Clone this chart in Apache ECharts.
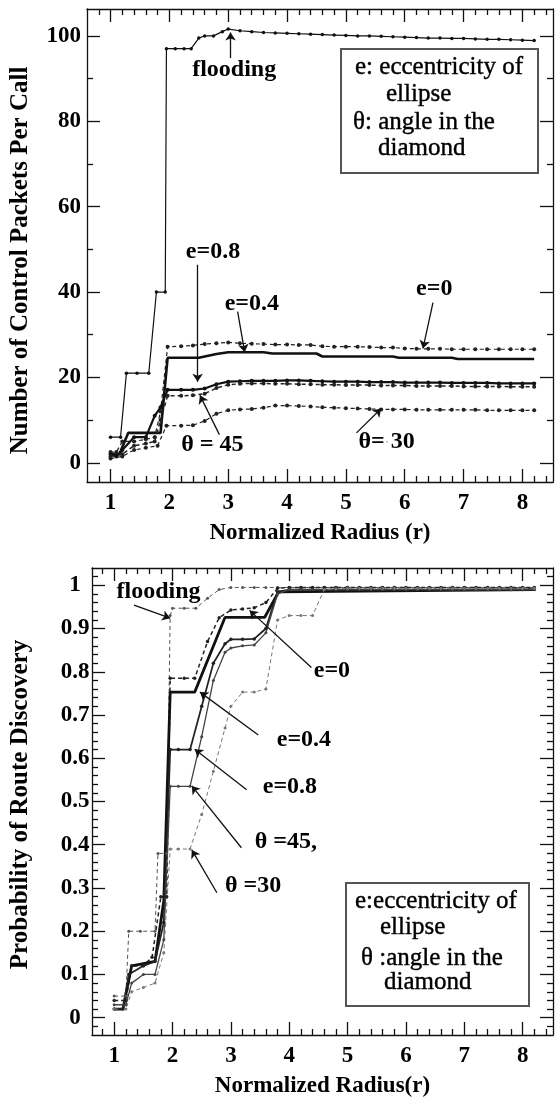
<!DOCTYPE html>
<html>
<head>
<meta charset="UTF-8">
<title>Control packets and route discovery</title>
<script src="https://cdn.jsdelivr.net/npm/echarts@6/dist/echarts.min.js"></script>
<style>
  html, body { margin: 0; padding: 0; background: #fff; }
  #chart { width: 557px; height: 1099px; }
</style>
</head>
<body>
<div id="chart"></div>
<script type="text/javascript">
// common radius grid for the flat tails (r = 3.0 .. 8.2)
var rTail = [3.0, 3.2, 3.4, 3.6, 3.8, 4.0, 4.2, 4.4, 4.6, 4.8, 5.0, 5.2, 5.4, 5.6, 5.8, 6.0, 6.2, 6.4, 6.6, 6.8, 7.0, 7.2, 7.4, 7.6, 7.8, 8.0, 8.2];

// ---- top chart: control packets per call ----
var floodTopHead = [[1.0, 6], [1.17, 6], [1.27, 21], [1.45, 21], [1.65, 21], [1.78, 40], [1.93, 40], [1.95, 97], [2.1, 97], [2.25, 97], [2.37, 97], [2.5, 99.5], [2.6, 100], [2.75, 100], [2.9, 101]];
var floodTopTail = [101.6, 101.2, 101.0, 100.8, 100.7, 100.6, 100.5, 100.4, 100.3, 100.2, 100.1, 100.0, 100.0, 99.9, 99.8, 99.7, 99.6, 99.5, 99.5, 99.4, 99.4, 99.3, 99.2, 99.2, 99.1, 99.0, 98.9];
var e0TopHead = [[1.0, 2.5], [1.1, 2.5], [1.2, 5], [1.4, 5], [1.6, 5.5], [1.75, 6], [1.85, 12], [1.97, 27.2], [2.2, 27.3], [2.4, 27.5], [2.6, 27.8], [2.8, 28]];
var e0TopTail = [28.2, 28.0, 27.9, 27.8, 27.7, 27.7, 27.6, 27.6, 27.3, 27.2, 27.2, 27.2, 27.1, 27.0, 27.0, 26.8, 26.7, 26.7, 26.7, 26.6, 26.6, 26.6, 26.6, 26.6, 26.6, 26.6, 26.6];
var e4Top = [[1.0, 2], [1.15, 2], [1.3, 7], [1.85, 7], [1.97, 24.6], [2.5, 24.6], [2.8, 25.5], [3.0, 25.9], [3.6, 25.9], [3.75, 25.6], [4.5, 25.6], [4.6, 24.9], [5.8, 24.9], [5.9, 24.6], [6.8, 24.6], [6.9, 24.3], [8.2, 24.3]];
var e8TopHead = [[1.0, 2], [1.1, 1.5], [1.2, 3], [1.4, 6], [1.6, 6], [1.75, 11], [1.85, 13], [1.97, 17.1], [2.2, 17.1], [2.4, 17.1], [2.6, 17.4], [2.8, 18.4]];
var e8TopTail = [19.0, 19.1, 19.2, 19.2, 19.2, 19.3, 19.3, 19.2, 19.1, 19.0, 19.0, 19.0, 18.9, 18.9, 18.9, 18.8, 18.8, 18.8, 18.8, 18.7, 18.7, 18.7, 18.7, 18.6, 18.6, 18.6, 18.6];
var t45TopHead = [[1.0, 1.5], [1.2, 2], [1.4, 4], [1.6, 4.5], [1.75, 5], [1.85, 10], [1.97, 15.7], [2.2, 15.7], [2.4, 15.8], [2.6, 16.2], [2.8, 17.5]];
var t45TopTail = [18.3, 18.5, 18.6, 18.6, 18.5, 18.5, 18.4, 18.4, 18.3, 18.3, 18.2, 18.2, 18.2, 18.1, 18.1, 18.1, 18.0, 18.0, 18.0, 18.0, 17.9, 17.9, 17.9, 17.9, 17.8, 17.8, 17.8];
var t30TopHead = [[1.0, 1], [1.2, 1.5], [1.4, 3], [1.6, 3.5], [1.8, 4], [1.95, 8.7], [2.2, 8.7], [2.4, 8.8], [2.6, 9.8], [2.8, 11.5]];
var t30TopTail = [12.3, 12.5, 12.6, 12.9, 13.4, 13.4, 13.3, 13.2, 13.0, 12.9, 12.8, 12.7, 12.6, 12.5, 12.5, 12.5, 12.4, 12.4, 12.4, 12.4, 12.4, 12.4, 12.3, 12.3, 12.3, 12.3, 12.3];

// ---- bottom chart: probability of route discovery ----
var floodBotHead = [[1.0, 0.05], [1.2, 0.05], [1.25, 0.2], [1.45, 0.2], [1.7, 0.2], [1.75, 0.38], [1.9, 0.38], [1.96, 0.93], [2.0, 0.947], [2.2, 0.947], [2.4, 0.947], [2.6, 0.97], [2.8, 0.99]];
var floodBotTail = [0.995, 0.995, 0.995, 0.995, 0.995, 0.995, 0.995, 0.995, 0.995, 0.995, 0.995, 0.995, 0.995, 0.995, 0.995, 0.995, 0.995, 0.995, 0.995, 0.995, 0.995, 0.995, 0.995, 0.995, 0.995, 0.995, 0.995];
var e0BotHead = [[1.0, 0.04], [1.2, 0.04], [1.3, 0.12], [1.5, 0.12], [1.65, 0.14], [1.8, 0.28], [1.9, 0.28], [1.96, 0.785], [2.2, 0.785], [2.38, 0.785], [2.6, 0.87], [2.8, 0.925]];
var e0BotTail = [0.943, 0.945, 0.948, 0.96, 0.993, 0.995, 0.995, 0.995, 0.995, 0.995, 0.995, 0.995, 0.995, 0.995, 0.995, 0.995, 0.995, 0.995, 0.995, 0.995, 0.995, 0.995, 0.995, 0.995, 0.995, 0.995, 0.995];
var e4Bot = [[1.0, 0.02], [1.15, 0.02], [1.3, 0.12], [1.7, 0.13], [1.85, 0.27], [1.96, 0.753], [2.38, 0.753], [2.9, 0.926], [3.58, 0.926], [3.82, 0.985], [8.2, 0.99]];
var e8BotHead = [[1.0, 0.02], [1.15, 0.02], [1.25, 0.1], [1.5, 0.12], [1.7, 0.13], [1.85, 0.22], [1.96, 0.62], [2.1, 0.62], [2.3, 0.62], [2.5, 0.72], [2.7, 0.82], [2.9, 0.865]];
var e8BotTail = [0.875, 0.875, 0.876, 0.9, 0.985, 0.99, 0.99, 0.99, 0.99, 0.99, 0.99, 0.99, 0.99, 0.99, 0.99, 0.99, 0.99, 0.99, 0.99, 0.99, 0.99, 0.99, 0.99, 0.99, 0.99, 0.99, 0.99];
var t45BotHead = [[1.0, 0.03], [1.2, 0.03], [1.3, 0.08], [1.5, 0.1], [1.7, 0.1], [1.85, 0.18], [1.96, 0.535], [2.1, 0.535], [2.3, 0.535], [2.5, 0.65], [2.7, 0.78], [2.9, 0.845]];
var t45BotTail = [0.855, 0.86, 0.862, 0.89, 0.98, 0.99, 0.99, 0.99, 0.99, 0.99, 0.99, 0.99, 0.99, 0.99, 0.99, 0.99, 0.99, 0.99, 0.99, 0.99, 0.99, 0.99, 0.99, 0.99, 0.99, 0.99, 0.99];
var t30BotHead = [[1.0, 0.02], [1.2, 0.02], [1.3, 0.06], [1.5, 0.07], [1.7, 0.08], [1.85, 0.15], [1.96, 0.39], [2.1, 0.39], [2.3, 0.39], [2.5, 0.47], [2.7, 0.57], [2.9, 0.67]];
var t30BotTail = [0.72, 0.753, 0.753, 0.76, 0.92, 0.93, 0.93, 0.93, 0.99, 0.992, 0.993, 0.993, 0.993, 0.993, 0.993, 0.993, 0.993, 0.993, 0.993, 0.993, 0.993, 0.993, 0.993, 0.993, 0.993, 0.993, 0.993];

// tick labels
var xMajor = [1, 2, 3, 4, 5, 6, 7, 8];
var topYMajor = [0, 20, 40, 60, 80, 100];
var botYMajor = [0, 0.1, 0.2, 0.3, 0.4, 0.5, 0.6, 0.7, 0.8, 0.9, 1];

// annotations (text position and pointer, in data units)
var annotTop = [
  { text: 'flooding', at: [3.11, 92], from: [3.04, 94.8], to: [3.04, 100.8] },
  { text: 'e=0.8', at: [2.75, 49.4], from: [2.48, 46.4], to: [2.48, 19] },
  { text: 'e=0.4', at: [3.41, 37.2], from: [3.16, 35.4], to: [3.28, 25.9] },
  { text: 'e=0', at: [6.51, 40.7], from: [6.48, 37.5], to: [6.31, 26.8] },
  { text: 'θ = 45', at: [2.74, 4.2], from: [2.85, 6.6], to: [2.52, 15.8] },
  { text: 'θ= 30', at: [5.7, 4.9], from: [5.18, 7], to: [5.6, 12.7] }
];
var annotBot = [
  { text: 'flooding', at: [1.77, 0.984], from: [1.34, 0.954], to: [1.96, 0.924] },
  { text: 'e=0', at: [4.74, 0.80], from: [4.38, 0.81], to: [3.32, 0.942] },
  { text: 'e=0.4', at: [4.26, 0.642], from: [3.47, 0.654], to: [2.47, 0.753] },
  { text: 'e=0.8', at: [4.02, 0.533], from: [3.27, 0.527], to: [2.38, 0.621] },
  { text: 'θ =45,', at: [3.95, 0.406], from: [3.18, 0.393], to: [2.33, 0.536] },
  { text: 'θ =30', at: [3.39, 0.303], from: [2.76, 0.289], to: [2.33, 0.388] }
];

var SERIF = '"Liberation Serif", "Times New Roman", serif';

function withTail(head, tail) {
  return head.concat(rTail.map(function (r, i) { return [r, tail[i]]; }));
}
function minorList(from, to, step, majors) {
  var out = [];
  for (var v = from; v <= to + 1e-9; v += step) {
    var rv = Math.round(v * 1000) / 1000;
    var isMajor = majors.some(function (m) { return Math.abs(m - rv) < 1e-6; });
    if (!isMajor) out.push(rv);
  }
  return out;
}

var xMinor = minorList(0.8, 8.4, 0.2, xMajor);
var topYMinor = minorList(10, 90, 20, topYMajor);
var botYMinor = minorList(-0.02, 1.02, 0.02, botYMajor);

var frameLine = { color: '#111', width: 1.3 };

function makeX(grid, min, max, name, gap) {
  var base = { gridIndex: grid, type: 'value', min: min, max: max, splitLine: { show: false } };
  return [
    Object.assign({}, base, {
      position: 'bottom',
      axisLine: { show: true, onZero: false, lineStyle: frameLine },
      axisTick: { show: true, inside: true, length: 13, customValues: xMajor, lineStyle: frameLine },
      axisLabel: { customValues: xMajor, margin: 10, color: '#000', fontFamily: SERIF, fontWeight: 'bold', fontSize: 23 },
      name: name, nameLocation: 'middle', nameGap: gap,
      nameTextStyle: { color: '#000', fontFamily: SERIF, fontWeight: 'bold', fontSize: 23 }
    }),
    Object.assign({}, base, {
      position: 'bottom',
      axisLine: { show: false, onZero: false },
      axisTick: { show: true, inside: true, length: 6, customValues: xMinor, lineStyle: frameLine },
      axisLabel: { show: false }
    }),
    Object.assign({}, base, {
      position: 'top',
      axisLine: { show: true, onZero: false, lineStyle: frameLine },
      axisTick: { show: true, inside: true, length: 13, customValues: xMajor, lineStyle: frameLine },
      axisLabel: { show: false }
    }),
    Object.assign({}, base, {
      position: 'top',
      axisLine: { show: false, onZero: false },
      axisTick: { show: true, inside: true, length: 6, customValues: xMinor, lineStyle: frameLine },
      axisLabel: { show: false }
    })
  ];
}

function makeY(grid, min, max, major, minor, name, gap, labelOpt, namePad) {
  var base = { gridIndex: grid, type: 'value', min: min, max: max, splitLine: { show: false } };
  return [
    Object.assign({}, base, {
      position: 'left',
      axisLine: { show: true, onZero: false, lineStyle: frameLine },
      axisTick: { show: true, inside: true, length: 13, customValues: major, lineStyle: frameLine },
      axisLabel: Object.assign({ customValues: major, color: '#000', fontFamily: SERIF, fontWeight: 'bold', fontSize: 23 }, labelOpt),
      name: name, nameLocation: 'middle', nameGap: gap,
      nameTextStyle: { color: '#000', fontFamily: SERIF, fontWeight: 'bold', fontSize: 25, padding: namePad }
    }),
    Object.assign({}, base, {
      position: 'left',
      axisLine: { show: false, onZero: false },
      axisTick: { show: true, inside: true, length: 6, customValues: minor, lineStyle: frameLine },
      axisLabel: { show: false }
    }),
    Object.assign({}, base, {
      position: 'right',
      axisLine: { show: true, onZero: false, lineStyle: frameLine },
      axisTick: { show: true, inside: true, length: 13, customValues: major, lineStyle: frameLine },
      axisLabel: { show: false }
    }),
    Object.assign({}, base, {
      position: 'right',
      axisLine: { show: false, onZero: false },
      axisTick: { show: true, inside: true, length: 6, customValues: minor, lineStyle: frameLine },
      axisLabel: { show: false }
    })
  ];
}

function curve(name, data, axis, st) {
  return {
    name: name, type: 'line', data: data,
    xAxisIndex: axis, yAxisIndex: axis,
    showSymbol: !!st.sym, symbol: 'circle', symbolSize: st.sym || 0,
    itemStyle: { color: st.color },
    lineStyle: { color: st.color, width: st.width, type: st.type || 'solid' },
    silent: true, z: st.z || 3
  };
}

function pointers(list, axis) {
  return {
    type: 'lines', coordinateSystem: 'cartesian2d',
    xAxisIndex: axis, yAxisIndex: axis,
    symbol: ['none', 'arrow'], symbolSize: 8,
    lineStyle: { color: '#111', width: 1.3, opacity: 1, curveness: 0 },
    data: list.map(function (a) { return { coords: [a.from, a.to] }; }),
    silent: true, z: 5
  };
}

function texts(list, axis, weight) {
  return {
    type: 'scatter', xAxisIndex: axis, yAxisIndex: axis,
    symbolSize: 1, itemStyle: { color: '#000', opacity: 1 },
    data: list.map(function (a) { return { value: a.at, name: a.text }; }),
    label: {
      show: true, position: [0, 0], align: 'center', verticalAlign: 'middle',
      formatter: '{b}', textBorderWidth: 0, opacity: 1,
      color: '#000', fontFamily: SERIF, fontWeight: weight, fontSize: 24
    },
    silent: true, z: 6
  };
}

function legendBox(x, y, w, h, lines) {
  return {
    type: 'group', left: x, top: y,
    children: [
      { type: 'rect', shape: { x: 0, y: 0, width: w, height: h }, style: { fill: '#fff', stroke: '#555', lineWidth: 2 } }
    ].concat(lines.map(function (l) {
      return {
        type: 'text', x: l[1], y: l[2],
        style: { text: l[0], fill: '#000', stroke: '#000', lineWidth: 0.4, font: '25px ' + SERIF, textVerticalAlign: 'middle' }
      };
    }))
  };
}

var chart = echarts.init(document.getElementById('chart'));

var option = {
  animation: false,
  backgroundColor: '#fff',
  grid: [
    { left: 84, right: 4, top: 9, bottom: 617 },
    { left: 90, right: 4, top: 568, bottom: 64 }
  ],
  xAxis: makeX(0, 0.6, 8.52, 'Normalized Radius (r)', 40)
    .concat(makeX(1, 0.62, 8.52, 'Normalized Radius(r)', 40)),
  yAxis: makeY(0, -4.5, 106.3, topYMajor, topYMinor, 'Number of Control Packets Per Call', 54, { margin: 6 }, [0, 30, 0, 0])
    .concat(makeY(1, -0.04, 1.04, botYMajor, botYMinor, 'Probability of Route Discovery', 59, { margin: 17, align: 'center' }, [0, 6, 0, 0])),
  series: [
    curve('flooding', withTail(floodTopHead, floodTopTail), 0, { color: '#111', width: 1.2, sym: 3.5 }),
    curve('e=0', withTail(e0TopHead, e0TopTail), 0, { color: '#222', width: 1.2, type: [4, 3], sym: 4 }),
    curve('e=0.4', e4Top, 0, { color: '#111', width: 2.6 }),
    curve('e=0.8', withTail(e8TopHead, e8TopTail), 0, { color: '#111', width: 2.2, sym: 4 }),
    curve('θ=45', withTail(t45TopHead, t45TopTail), 0, { color: '#222', width: 1.5, type: [4, 3], sym: 4 }),
    curve('θ=30', withTail(t30TopHead, t30TopTail), 0, { color: '#222', width: 1.2, type: [4, 3], sym: 4 }),
    pointers(annotTop, 0),
    texts(annotTop, 0, 'bold'),

    curve('flooding', withTail(floodBotHead, floodBotTail), 4, { color: '#555', width: 1, type: [4, 3], sym: 3 }),
    curve('e=0', withTail(e0BotHead, e0BotTail), 4, { color: '#222', width: 1.5, type: [4, 3], sym: 3.5 }),
    curve('e=0.4', e4Bot, 4, { color: '#111', width: 2.8 }),
    curve('e=0.8', withTail(e8BotHead, e8BotTail), 4, { color: '#222', width: 1.8, sym: 3.5 }),
    curve('θ=45', withTail(t45BotHead, t45BotTail), 4, { color: '#444', width: 1.3, sym: 3 }),
    curve('θ=30', withTail(t30BotHead, t30BotTail), 4, { color: '#777', width: 1, type: [4, 3], sym: 3 }),
    pointers(annotBot, 4),
    texts(annotBot, 4, 'bold')
  ],
  graphic: [
    legendBox(340, 48, 197, 124, [
      ['e: eccentricity of', 14, 18], ['ellipse', 45, 45], ['θ: angle in the', 12, 73], ['diamond', 37, 99]
    ]),
    legendBox(345, 882, 183, 123, [
      ['e:eccentricity of', 9, 18], ['ellipse', 34, 44], ['θ :angle in the', 15, 75], ['diamond', 38, 99]
    ])
  ]
};

chart.setOption(option);
</script>
</body>
</html>
